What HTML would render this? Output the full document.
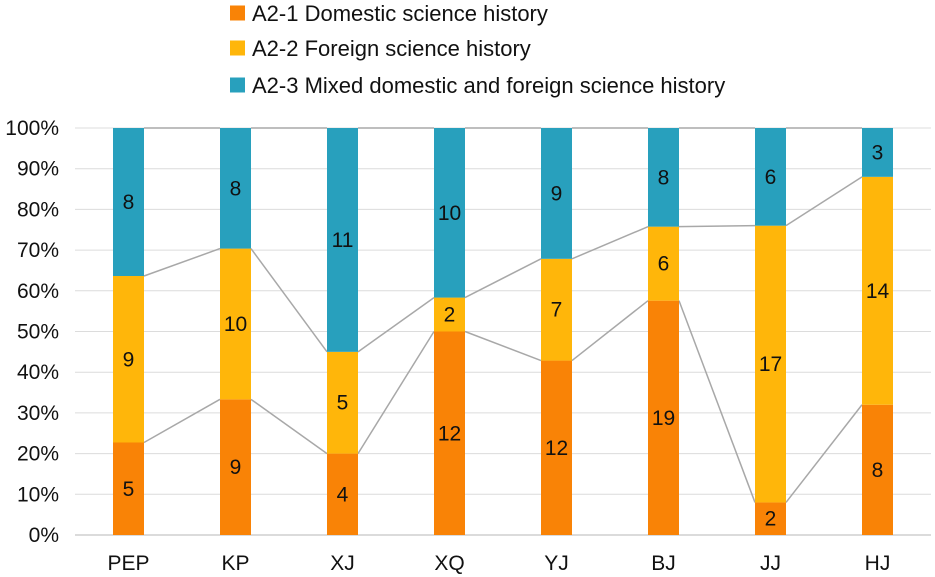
<!DOCTYPE html>
<html><head><meta charset="utf-8"><style>
body{margin:0;background:#fff;}
svg{display:block;font-family:"Liberation Sans",Arial,sans-serif;}
</style></head><body>
<svg id="chart" width="935" height="577" viewBox="0 0 935 577">
<g id="legend"></g>
<g id="grid"></g>
<g id="yaxis"></g>
<g id="connectors"></g>
<g id="bars"></g>
<g id="xaxis"></g>
</svg>
<script>
const categories = ["PEP","KP","XJ","XQ","YJ","BJ","JJ","HJ"];
const domestic = [5,9,4,12,12,19,2,8];
const foreign = [9,10,5,2,7,6,17,14];
const mixed = [8,8,11,10,9,8,6,3];
const seriesNames = ["A2-1 Domestic science history","A2-2 Foreign science history","A2-3 Mixed domestic and foreign science history"];
const yTicks = [0,10,20,30,40,50,60,70,80,90,100];

const NS="http://www.w3.org/2000/svg";
const colors=["#F98306","#FFB60A","#28A0BD"];
const plotL=75, plotR=931, y0=535, y100=128, barW=31;
const step=(plotR-plotL)/categories.length;
const yS=p=>y0-(y0-y100)*p/100;
const xC=i=>plotL+step*(i+0.5);
function mk(tag,attrs,parent){const e=document.createElementNS(NS,tag);for(const k in attrs)e.setAttribute(k,attrs[k]);parent.appendChild(e);return e;}

const legend=document.getElementById('legend');
const ly=[13,48,85];
seriesNames.forEach((n,i)=>{
  const r=mk('rect',{x:230,y:ly[i]-7.5,width:15,height:15,fill:colors[i]},legend);
  
  
  const t=mk('text',{x:252,y:ly[i]+8,'font-size':22,fill:'#111'},legend);
  t.textContent=n;
  
  
});

const grid=document.getElementById('grid'), yaxis=document.getElementById('yaxis');
yTicks.forEach(v=>{
  const y=yS(v);
  const l=mk('line',{x1:plotL,x2:plotR,y1:y,y2:y,stroke:v===0?'#cfcfcf':'#dcdcdc','stroke-width':v===0?1.5:1},grid);
  
  
  const t=mk('text',{x:59,y:y+7,'font-size':21,'text-anchor':'end',fill:'#111'},yaxis);
  t.textContent=v+'%';
  
  
});

const bars=document.getElementById('bars'), conn=document.getElementById('connectors'), xaxis=document.getElementById('xaxis');
const cum=categories.map((c,i)=>{const tot=domestic[i]+foreign[i]+mixed[i];
  return [domestic[i]/tot*100,(domestic[i]+foreign[i])/tot*100,100];});
categories.forEach((c,i)=>{
  const vals=[domestic[i],foreign[i],mixed[i]];
  let prev=0;
  vals.forEach((v,s)=>{
    const top=cum[i][s];
    const r=mk('rect',{x:xC(i)-barW/2,y:yS(top),width:barW,height:yS(prev)-yS(top),fill:colors[s]},bars);
    
    
    const t=mk('text',{x:xC(i),y:(yS(top)+yS(prev))/2+7,'font-size':21,'text-anchor':'middle',fill:'#111'},bars);
    t.textContent=v;
    
    
    prev=top;
  });
  const xl=mk('text',{x:xC(i),y:570,'font-size':21,'text-anchor':'middle',fill:'#111'},xaxis);
  xl.textContent=c;
  
  
  if(i<categories.length-1){
    for(let s=0;s<3;s++){
      const l=mk('line',{x1:xC(i)+barW/2,y1:yS(cum[i][s]),x2:xC(i+1)-barW/2,y2:yS(cum[i+1][s]),stroke:'#a8a8a8','stroke-width':1.5},conn);
      
      
    }
  }
});
</script>
</body></html>
